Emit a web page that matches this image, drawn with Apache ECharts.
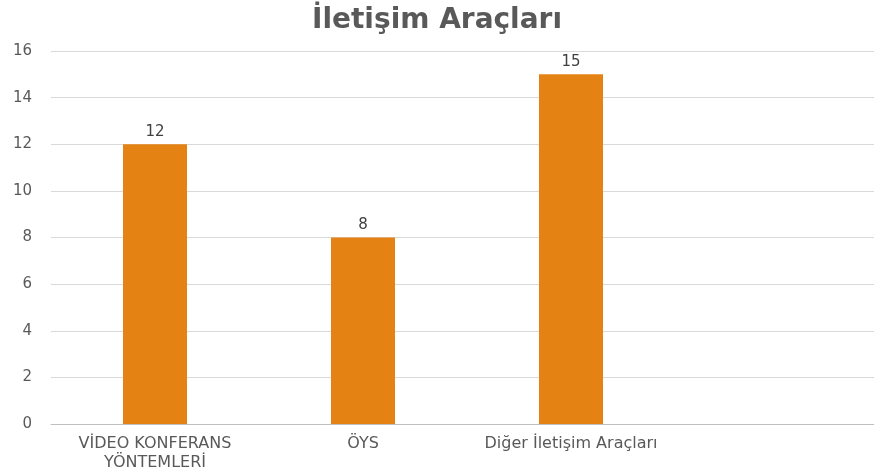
<!DOCTYPE html>
<html>
<head>
<meta charset="utf-8">
<script src="https://cdn.jsdelivr.net/npm/echarts@6/dist/echarts.min.js"></script>
<style>html,body{margin:0;padding:0;background:#fff}#c{width:874px;height:470px}</style>
</head>
<body>
<div id="c"></div>
<script>
const titleText = 'İletişim Araçları';
const categories = ['VİDEO KONFERANS\nYÖNTEMLERİ', 'ÖYS', 'Diğer İletişim Araçları', ''];
const values = [12, 8, 15, null];
const yTicks = { min: 0, max: 16, interval: 2 };

const FONT = 'DejaVu Sans';
const chart = echarts.init(document.getElementById('c'), null, { renderer: 'canvas' });
chart.setOption({
  backgroundColor: '#ffffff',
  animation: false,
  title: {
    text: titleText,
    left: 'center',
    top: 2,
    textStyle: { fontFamily: FONT, fontWeight: 'bold', fontSize: 28, color: '#595959' }
  },
  grid: { left: 51, top: 51, width: 832, height: 373, containLabel: false, outerBoundsMode: 'none' },
  xAxis: {
    type: 'category',
    data: categories,
    axisTick: { show: false },
    axisLine: { lineStyle: { color: '#bfbfbf', width: 1 } },
    axisLabel: { color: '#595959', fontFamily: FONT, fontSize: 16, margin: 10, lineHeight: 19, interval: 0 }
  },
  yAxis: {
    type: 'value',
    min: yTicks.min, max: yTicks.max, interval: yTicks.interval,
    axisLine: { show: false },
    axisTick: { show: false },
    axisLabel: { color: '#595959', fontFamily: FONT, fontSize: 15, margin: 19 },
    splitLine: { lineStyle: { color: '#d9d9d9', width: 1 } }
  },
  series: [{
    type: 'bar',
    data: values,
    barWidth: 64,
    itemStyle: { color: '#E48314' },
    label: { show: true, position: 'top', distance: 5, color: '#404040', fontFamily: FONT, fontSize: 15 }
  }]
});
</script>
</body>
</html>
